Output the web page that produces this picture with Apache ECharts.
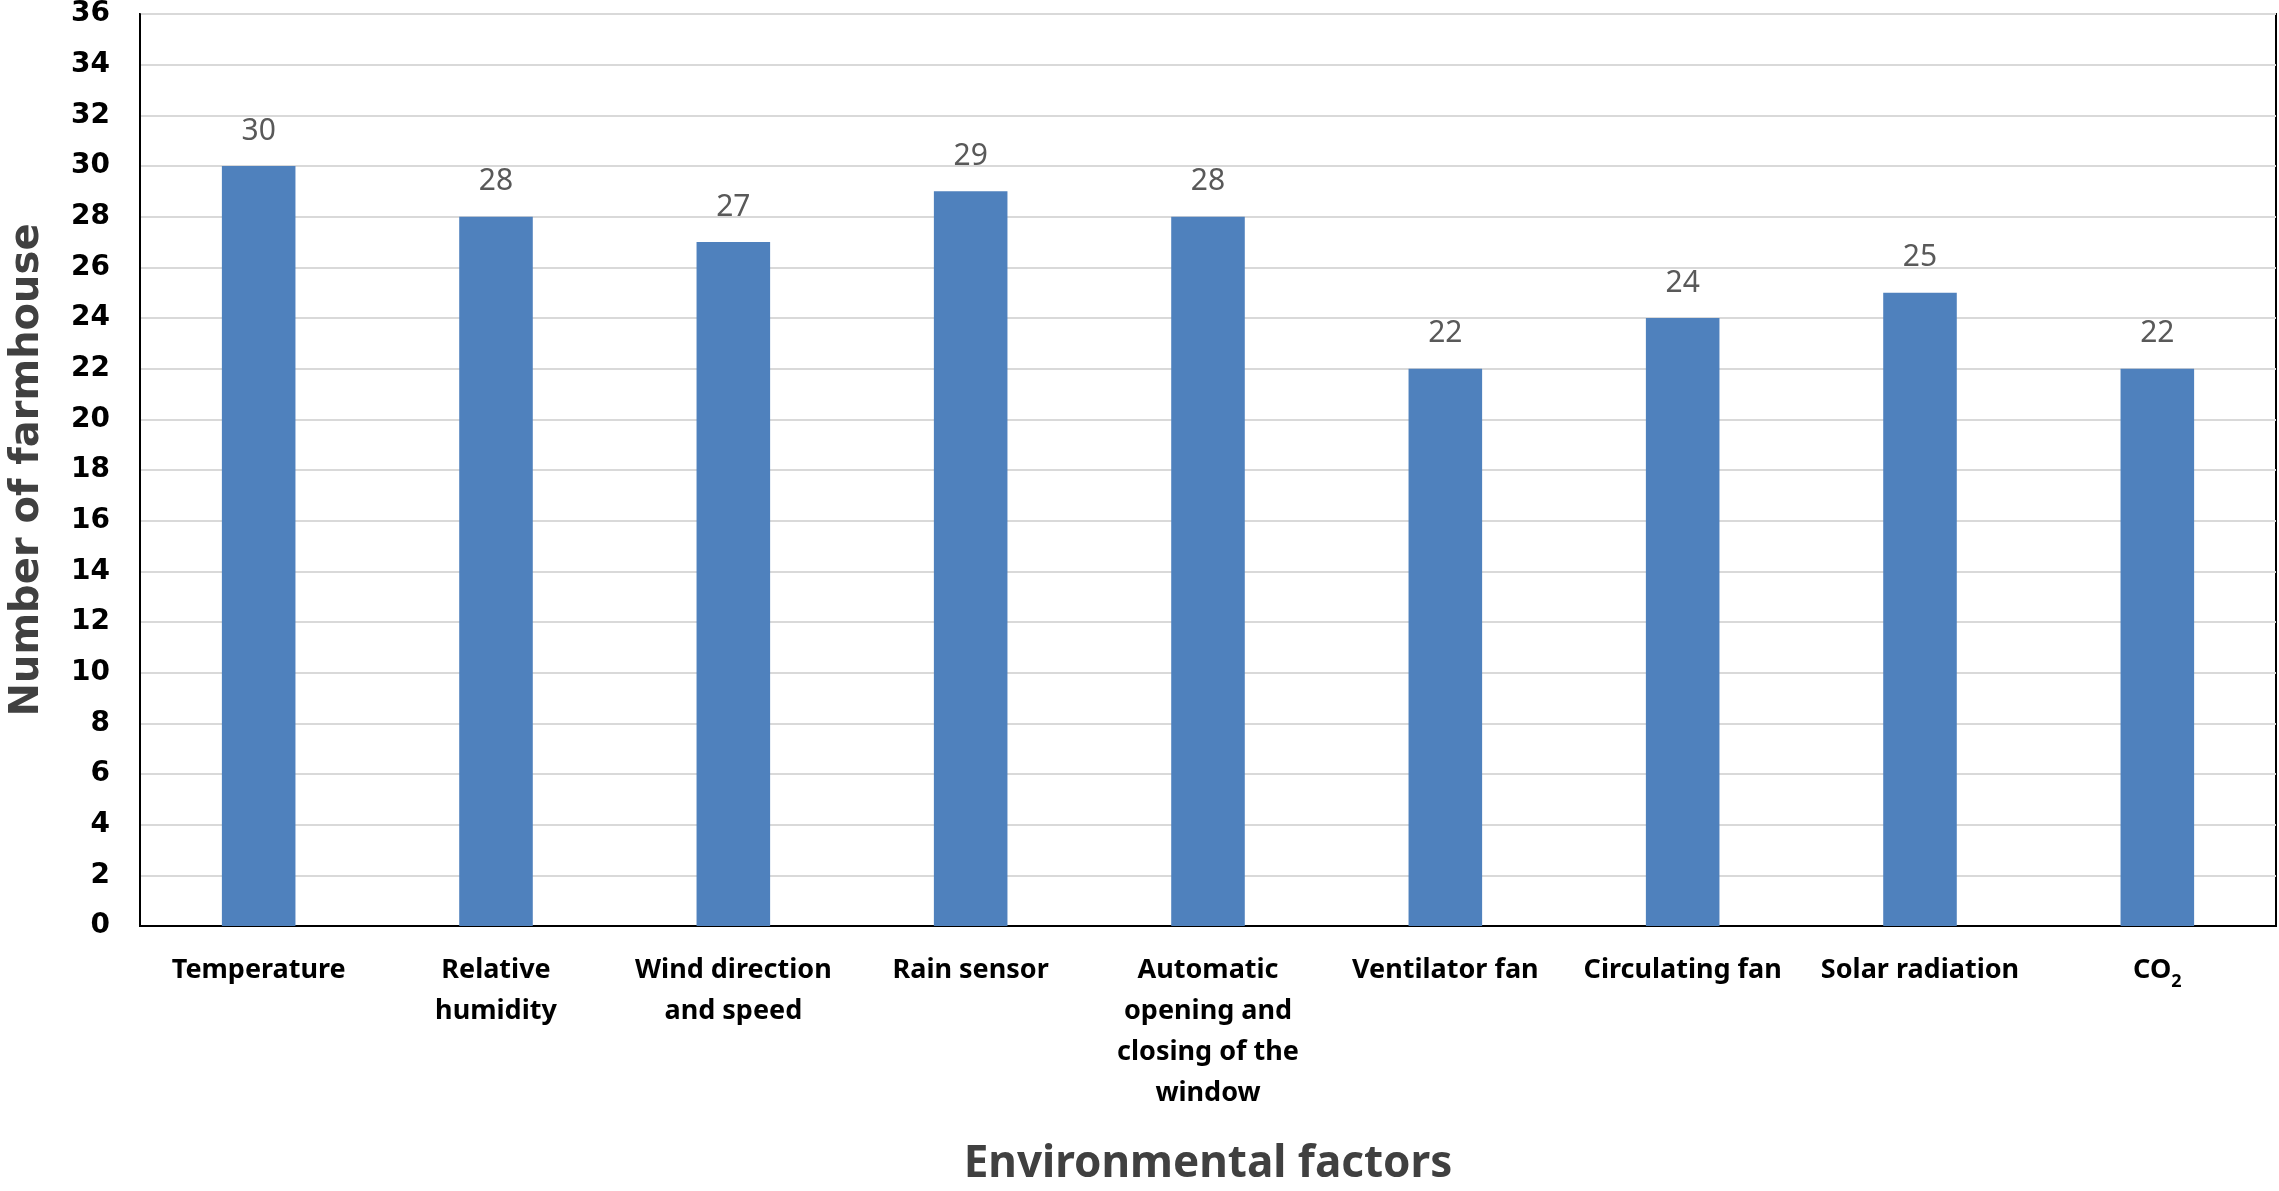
<!DOCTYPE html>
<html>
<head>
<meta charset="utf-8">
<script src="https://cdn.jsdelivr.net/npm/echarts@6/dist/echarts.min.js"></script>
<style>
html,body{margin:0;padding:0;background:#fff;}
#chart{width:2279px;height:1191px;}
</style>
</head>
<body>
<div id="chart"></div>
<script>
const categories = [
  'Temperature',
  'Relative\nhumidity',
  'Wind direction\nand speed',
  'Rain sensor',
  'Automatic\nopening and\nclosing of the\nwindow',
  'Ventilator fan',
  'Circulating fan',
  'Solar radiation',
  'CO₂'
];
const values = [30, 28, 27, 29, 28, 22, 24, 25, 22];
const yTicks = { min: 0, max: 36, interval: 2 };
const xTitle = 'Environmental factors';
const yTitle = 'Number of farmhouse';

const chart = echarts.init(document.getElementById('chart'));
chart.setOption({
  backgroundColor: '#ffffff',
  animation: false,
  grid: {
    left: 133, right: 3, top: 14, bottom: 259,
    show: true, borderColor: '#000', borderWidth: 2, backgroundColor: 'transparent'
  },
  xAxis: {
    type: 'category',
    data: categories,
    name: xTitle,
    nameLocation: 'middle',
    nameGap: 216,
    nameTextStyle: { fontFamily: 'Noto Sans', fontWeight: 'bold', fontSize: 44, color: '#404040' },
    axisLine: { show: true, lineStyle: { color: '#000', width: 2 } },
    axisTick: { show: false },
    axisLabel: {
      interval: 0,
      margin: 24,
      fontFamily: 'Noto Sans',
      fontWeight: 'bold',
      fontSize: 27,
      lineHeight: 41,
      color: '#000',
      formatter: function (v) { return v.replace('₂', '{sub|2}'); },
      rich: {
        sub: { fontFamily: 'Noto Sans', fontWeight: 'bold', fontSize: 18, color: '#000', verticalAlign: 'bottom', padding: [14, 0, 0, 0] }
      }
    }
  },
  yAxis: {
    type: 'value',
    min: yTicks.min, max: yTicks.max, interval: yTicks.interval,
    name: yTitle,
    nameLocation: 'middle',
    nameGap: 92,
    nameTextStyle: { fontFamily: 'DejaVu Sans', fontWeight: 'bold', fontSize: 40, color: '#404040' },
    axisLine: { show: true, lineStyle: { color: '#000', width: 2 } },
    axisTick: { show: false },
    axisLabel: { margin: 30, fontFamily: 'DejaVu Sans', fontWeight: 'bold', fontSize: 28, color: '#000' },
    splitLine: { show: true, lineStyle: { color: '#d9d9d9', width: 2 } }
  },
  series: [{
    type: 'bar',
    data: values,
    barCategoryGap: '69%',
    itemStyle: { color: '#4f81bd' },
    label: {
      show: true, position: 'top', distance: 20,
      fontFamily: 'Noto Sans', fontSize: 30, color: '#595959'
    }
  }]
});
</script>
</body>
</html>
